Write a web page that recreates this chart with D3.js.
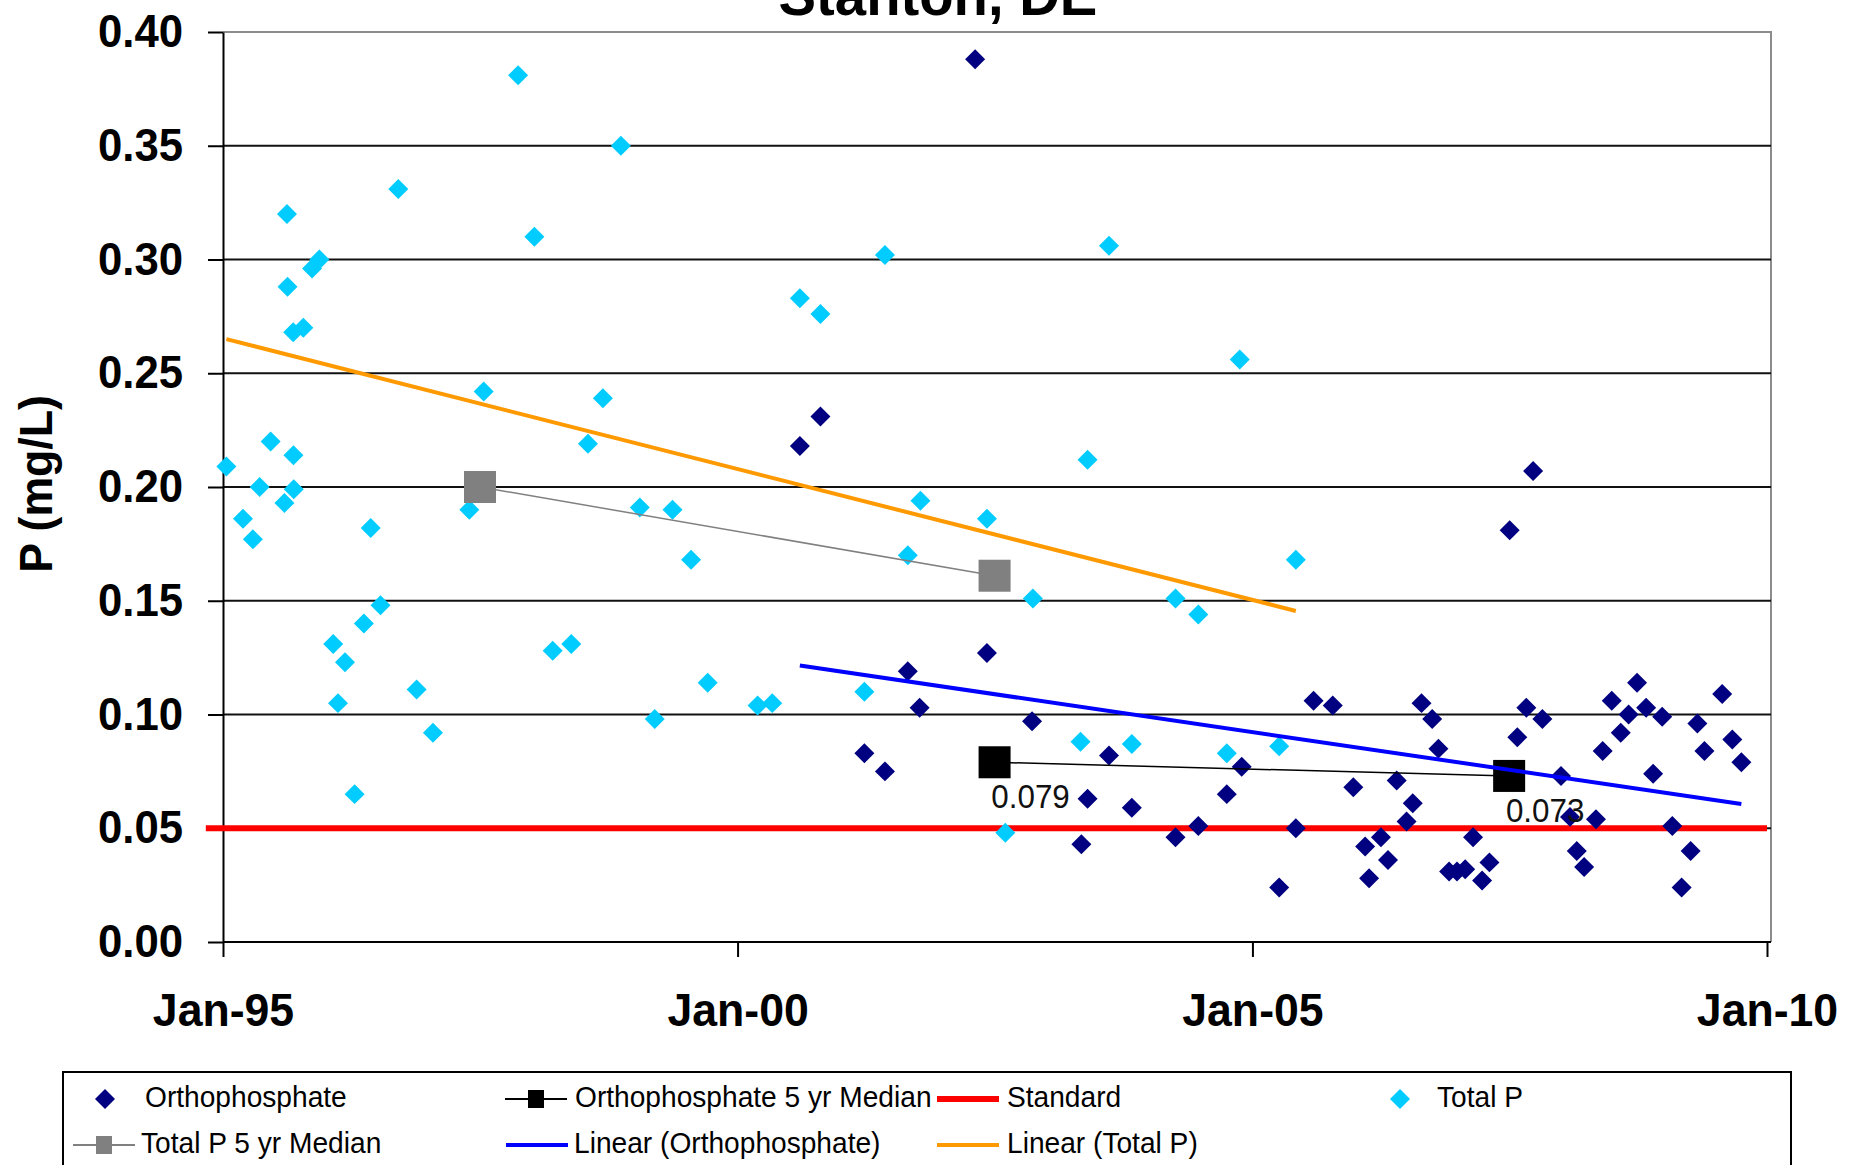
<!DOCTYPE html>
<html>
<head>
<meta charset="utf-8">
<script src="https://cdn.jsdelivr.net/npm/d3@7"></script>
<style>
  html, body { margin: 0; padding: 0; background: #fff; }
  svg { display: block; font-family: "Liberation Sans", Arial, sans-serif; }
</style>
</head>
<body>
<svg id="chart" width="1860" height="1165"></svg>
<script>
// ---- data ----
const totalPDates = [
  '1995-01-13', '1995-03-13', '1995-04-17', '1995-05-11', '1995-06-19', '1995-08-07', '1995-08-16',
  '1995-08-18', '1995-09-07', '1995-09-08', '1995-09-09', '1995-10-13', '1995-11-13', '1995-12-09',
  '1996-01-27', '1996-02-13', '1996-03-09', '1996-04-12', '1996-05-15', '1996-06-08', '1996-07-13',
  '1996-09-14', '1996-11-18', '1997-01-15', '1997-05-24', '1997-07-14', '1997-11-13', '1998-01-10',
  '1998-03-16', '1998-05-21', '1998-07-19', '1998-09-10', '1998-11-13', '1999-01-19', '1999-03-13',
  '1999-05-15', '1999-07-20', '1999-09-17', '2000-03-12', '2000-05-03', '2000-08-09', '2000-10-21',
  '2001-03-26', '2001-06-07', '2001-08-27', '2001-10-11', '2002-06-04', '2002-08-08', '2002-11-14',
  '2003-05-02', '2003-05-27', '2003-08-11', '2003-10-31', '2004-04-03', '2004-06-23', '2004-10-02',
  '2004-11-17', '2005-04-06', '2005-06-04'
];
const totalPValues = [
  0.209, 0.186, 0.177, 0.200, 0.220, 0.193, 0.320,
  0.288, 0.268, 0.214, 0.199, 0.270, 0.296, 0.300,
  0.131, 0.105, 0.123, 0.065, 0.140, 0.182, 0.148,
  0.331, 0.111, 0.092, 0.190, 0.242, 0.381, 0.310,
  0.128, 0.131, 0.219, 0.239, 0.350, 0.191, 0.098,
  0.190, 0.168, 0.114, 0.104, 0.105, 0.283, 0.276,
  0.110, 0.302, 0.170, 0.194, 0.186, 0.048, 0.151,
  0.088, 0.212, 0.306, 0.087, 0.151, 0.144, 0.083,
  0.256, 0.086, 0.168
];

const orthoDates = [
  '2000-08-09', '2000-10-21', '2001-03-26', '2001-06-07', '2001-08-27', '2001-10-08', '2002-04-23',
  '2002-06-04', '2002-11-11', '2003-05-05', '2003-05-27', '2003-08-11', '2003-10-31', '2004-04-03',
  '2004-06-23', '2004-10-02', '2004-11-24', '2005-04-06', '2005-06-04', '2005-08-06', '2005-10-13',
  '2005-12-25', '2006-02-05', '2006-02-19', '2006-04-02', '2006-04-27', '2006-05-28', '2006-07-02',
  '2006-07-24', '2006-08-24', '2006-10-01', '2006-10-23', '2006-11-30', '2006-12-28', '2007-01-26',
  '2007-02-23', '2007-03-27', '2007-04-22', '2007-07-03', '2007-07-30', '2007-08-31', '2007-09-24',
  '2007-10-27', '2008-01-01', '2008-02-02', '2008-02-26', '2008-03-23', '2008-05-04', '2008-05-28',
  '2008-06-29', '2008-07-31', '2008-08-28', '2008-09-27', '2008-10-29', '2008-11-23', '2008-12-25',
  '2009-01-30', '2009-03-04', '2009-04-05', '2009-04-29', '2009-05-24', '2009-07-26', '2009-08-31',
  '2009-10-02'
];
const orthoValues = [
  0.218, 0.231, 0.083, 0.075, 0.119, 0.103, 0.388,
  0.127, 0.097, 0.043, 0.063, 0.082, 0.059, 0.046,
  0.051, 0.065, 0.077, 0.024, 0.050, 0.106, 0.104,
  0.068, 0.042, 0.028, 0.046, 0.036, 0.071, 0.053,
  0.061, 0.105, 0.098, 0.085, 0.031, 0.031, 0.032,
  0.046, 0.027, 0.035, 0.181, 0.090, 0.103, 0.207,
  0.098, 0.073, 0.055, 0.040, 0.033, 0.054, 0.084,
  0.106, 0.092, 0.100, 0.114, 0.103, 0.074, 0.099,
  0.051, 0.024, 0.040, 0.096, 0.084, 0.109, 0.089,
  0.079
];

const totalPMedianDates = ['1997-07-01', '2002-07-01'];
const totalPMedianValues = [0.200, 0.161];
const orthoMedianDates = ['2002-07-01', '2007-07-01'];
const orthoMedianValues = [0.079, 0.073];
const orthoMedianLabels = ['0.079', '0.073'];

const standardDates = ['1994-11-01', '2010-01-01'];
const standardValues = [0.05, 0.05];

// linear trend values at the first and last sample of each series
const trendTotalPValues = [0.265, 0.1455];
const trendOrthoValues = [0.1215, 0.0607];

const yTicks = [0, 0.05, 0.10, 0.15, 0.20, 0.25, 0.30, 0.35, 0.40];
const xTickDates = ['1995-01-01', '2000-01-01', '2005-01-01', '2010-01-01'];
const xTickLabels = ['Jan-95', 'Jan-00', 'Jan-05', 'Jan-10'];

// ---- helpers ----
const parse = d3.timeParse('%Y-%m-%d');
const zip = (dates, values) => dates.map((d, i) => ({ date: parse(d), value: values[i] }));

function squeeze(sel, k) {
  sel.each(function() {
    const w = this.getComputedTextLength();
    d3.select(this).attr('textLength', w * k).attr('lengthAdjust', 'spacingAndGlyphs');
  });
}

const totalP = zip(totalPDates, totalPValues);
const ortho = zip(orthoDates, orthoValues);
const totalPMedian = zip(totalPMedianDates, totalPMedianValues);
const orthoMedian = zip(orthoMedianDates, orthoMedianValues);
const standard = zip(standardDates, standardValues);
const trendTotalP = [
  { date: d3.min(totalP, d => d.date), value: trendTotalPValues[0] },
  { date: d3.max(totalP, d => d.date), value: trendTotalPValues[1] }
];
const trendOrtho = [
  { date: d3.min(ortho, d => d.date), value: trendOrthoValues[0] },
  { date: d3.max(ortho, d => d.date), value: trendOrthoValues[1] }
];

// ---- layout ----
const plot = { left: 223, right: 1771, top: 32, bottom: 942 };
const colors = {
  ortho: '#000080', totalP: '#00CCFF', orthoMed: '#000000', totalPMed: '#808080',
  standard: '#FF0000', trendOrtho: '#0000FF', trendTotalP: '#FF9900'
};

const x = d3.scaleTime()
  .domain([parse(xTickDates[0]), parse(xTickDates[xTickDates.length - 1])])
  .range([plot.left, 1767]);
const y = d3.scaleLinear().domain([0, 0.4]).range([plot.bottom, plot.top]);

const svg = d3.select('#chart');
const line = d3.line().x(d => x(d.date)).y(d => y(d.value));
const diamond = d3.symbol(d3.symbolSquare, 200);

// plot border (top / right in gray)
svg.append('path')
  .attr('d', `M${plot.left},${plot.top}H${plot.right}V${plot.bottom}`)
  .attr('fill', 'none')
  .attr('stroke', '#8c8c8c')
  .attr('stroke-width', 2);

// horizontal gridlines
svg.append('g')
  .selectAll('line')
  .data(yTicks.filter(v => v > 0 && v < 0.4))
  .join('line')
  .attr('x1', plot.left)
  .attr('x2', plot.right)
  .attr('y1', d => y(d))
  .attr('y2', d => y(d))
  .attr('stroke', '#111')
  .attr('stroke-width', 2);

// y axis
const yAxis = svg.append('g')
  .attr('transform', `translate(${plot.left},0)`)
  .call(d3.axisLeft(y).tickValues(yTicks).tickSize(15).tickSizeOuter(0).tickPadding(25).tickFormat(d3.format('.2f')));
yAxis.select('.domain').attr('stroke', '#000').attr('stroke-width', 2);
yAxis.selectAll('.tick line').attr('stroke', '#000').attr('stroke-width', 2);
yAxis.selectAll('text')
  .attr('font-size', 46)
  .attr('font-weight', 'bold')
  .attr('fill', '#000')
  .call(squeeze, 0.95);

// x axis
const xAxis = svg.append('g')
  .attr('transform', `translate(0,${plot.bottom})`)
  .call(d3.axisBottom(x)
    .tickValues(xTickDates.map(parse))
    .tickSize(15)
    .tickSizeOuter(0)
    .tickPadding(36)
    .tickFormat((d, i) => xTickLabels[i]));
xAxis.select('.domain').remove();
xAxis.append('line')
  .attr('x1', plot.left)
  .attr('x2', plot.right)
  .attr('stroke', '#000')
  .attr('stroke-width', 2);
xAxis.selectAll('.tick line').attr('stroke', '#000').attr('stroke-width', 2);
xAxis.selectAll('text')
  .attr('font-size', 46)
  .attr('font-weight', 'bold')
  .attr('fill', '#000')
  .call(squeeze, 0.97);

// axis title + chart title
svg.append('text')
  .attr('transform', 'translate(52,484) rotate(-90)')
  .attr('text-anchor', 'middle')
  .attr('font-size', 46)
  .attr('font-weight', 'bold')
  .text('P (mg/L)')
  .call(squeeze, 0.97);

svg.append('text')
  .attr('x', 938)
  .attr('y', 15)
  .attr('text-anchor', 'middle')
  .attr('font-size', 58)
  .attr('font-weight', 'bold')
  .text('Stanton, DE')
  .call(squeeze, 0.97);

// standard
svg.append('path')
  .datum(standard)
  .attr('d', line)
  .attr('fill', 'none')
  .attr('stroke', colors.standard)
  .attr('stroke-width', 6);

// scatter: orthophosphate and total P
svg.append('g')
  .selectAll('path')
  .data(ortho)
  .join('path')
  .attr('d', diamond)
  .attr('transform', d => `translate(${x(d.date)},${y(d.value)}) rotate(45)`)
  .attr('fill', colors.ortho);

svg.append('g')
  .selectAll('path')
  .data(totalP)
  .join('path')
  .attr('d', diamond)
  .attr('transform', d => `translate(${x(d.date)},${y(d.value)}) rotate(45)`)
  .attr('fill', colors.totalP);

// 5 yr medians
function drawMedian(data, color) {
  svg.append('path')
    .datum(data)
    .attr('d', line)
    .attr('fill', 'none')
    .attr('stroke', color)
    .attr('stroke-width', 1.5);
  svg.append('g')
    .selectAll('rect')
    .data(data)
    .join('rect')
    .attr('x', d => x(d.date) - 16)
    .attr('y', d => y(d.value) - 16)
    .attr('width', 32)
    .attr('height', 32)
    .attr('fill', color);
}
drawMedian(totalPMedian, colors.totalPMed);
drawMedian(orthoMedian, colors.orthoMed);

svg.append('g')
  .selectAll('text')
  .data(orthoMedian)
  .join('text')
  .attr('x', d => x(d.date) + 36)
  .attr('y', d => y(d.value) + 46)
  .attr('text-anchor', 'middle')
  .attr('font-size', 33)
  .attr('fill', '#111')
  .text((d, i) => orthoMedianLabels[i])
  .call(squeeze, 0.95);

// linear trends
svg.append('path')
  .datum(trendTotalP)
  .attr('d', line)
  .attr('fill', 'none')
  .attr('stroke', colors.trendTotalP)
  .attr('stroke-width', 4);
svg.append('path')
  .datum(trendOrtho)
  .attr('d', line)
  .attr('fill', 'none')
  .attr('stroke', colors.trendOrtho)
  .attr('stroke-width', 4);

// ---- legend ----
svg.append('rect')
  .attr('x', 63)
  .attr('y', 1072)
  .attr('width', 1728)
  .attr('height', 120)
  .attr('fill', '#fff')
  .attr('stroke', '#000')
  .attr('stroke-width', 2);

const legendItems = [
  { label: 'Orthophosphate', kind: 'marker', color: colors.ortho, x: 105, row: 0, tx: 145 },
  { label: 'Orthophosphate 5 yr Median', kind: 'lineSquare', color: colors.orthoMed, x: 536, row: 0, tx: 575 },
  { label: 'Standard', kind: 'line', color: colors.standard, width: 6, x: 968, row: 0, tx: 1007 },
  { label: 'Total P', kind: 'marker', color: colors.totalP, x: 1400, row: 0, tx: 1437 },
  { label: 'Total P 5 yr Median', kind: 'lineSquare', color: colors.totalPMed, x: 104, row: 1, tx: 141 },
  { label: 'Linear (Orthophosphate)', kind: 'line', color: colors.trendOrtho, width: 4, x: 537, row: 1, tx: 574 },
  { label: 'Linear (Total P)', kind: 'line', color: colors.trendTotalP, width: 4, x: 968, row: 1, tx: 1007 }
];
const rowY = [1099, 1145];

const legend = svg.append('g');
legendItems.forEach(item => {
  const cy = rowY[item.row];
  const g = legend.append('g');
  if (item.kind === 'marker') {
    g.append('path')
      .attr('d', d3.symbol(d3.symbolSquare, 200)())
      .attr('transform', `translate(${item.x},${cy}) rotate(45)`)
      .attr('fill', item.color);
  } else {
    g.append('line')
      .attr('x1', item.x - 31)
      .attr('x2', item.x + 31)
      .attr('y1', cy)
      .attr('y2', cy)
      .attr('stroke', item.color)
      .attr('stroke-width', item.kind === 'lineSquare' ? 2 : item.width);
    if (item.kind === 'lineSquare') {
      g.append('rect')
        .attr('x', item.x - 8)
        .attr('y', cy - 9)
        .attr('width', 16)
        .attr('height', 18)
        .attr('fill', item.color);
    }
  }
  g.append('text')
    .attr('x', item.tx)
    .attr('y', cy + 8)
    .attr('font-size', 29)
    .attr('fill', '#000')
    .text(item.label)
    .call(squeeze, 0.97);
});
</script>
</body>
</html>
